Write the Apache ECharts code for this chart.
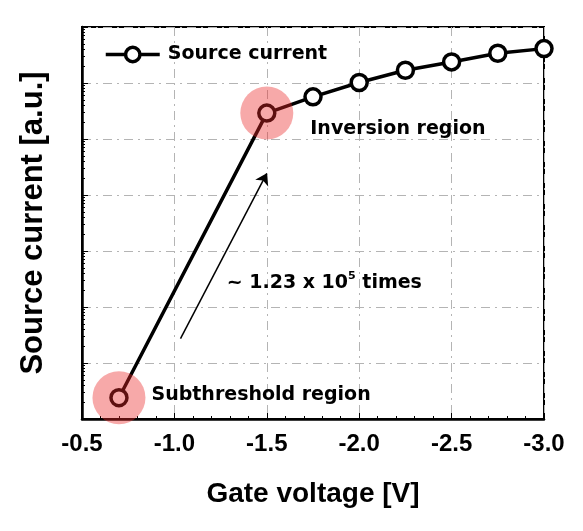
<!DOCTYPE html>
<html lang="en" style="height: 100%">
<head>
    <meta charset="utf-8">
    <title>Source current vs gate voltage</title>
</head>
<body style="height: 100%; margin: 0; background: #fff">
<div id="container" style="width: 583px; height: 531px"></div>

<script type="text/javascript" src="https://cdn.jsdelivr.net/npm/echarts@6/dist/echarts.min.js"></script>
<script type="text/javascript">
    // gate voltage [V] and source current [a.u.] (log scale)
    var gateVoltage = [-0.7, -1.5, -1.75, -2.0, -2.25, -2.5, -2.75, -3.0];
    var sourceCurrent = [2.4, 2.9e5, 5.66e5, 1.02e6, 1.69e6, 2.38e6, 3.40e6, 4.11e6];

    // points marked with the pink circles, and their texts
    var highlightIdx = [0, 1];
    var regionLabels = ['Subthreshold region', 'Inversion region'];

    // arrow and ratio text
    var arrowFrom = [-1.033, 27.3];
    var arrowTo = [-1.5, 2.44e4];
    var ratioAnchor = [-1.283, 263];

    var xTicks = [-0.5, -1.0, -1.5, -2.0, -2.5, -3.0];

    var dom = document.getElementById('container');
    var myChart = echarts.init(dom, null, {renderer: 'canvas'});

    var lineData = gateVoltage.map(function (v, i) {
        return [v, sourceCurrent[i]];
    });

    var hlData = highlightIdx.map(function (idx, k) {
        var item = {
            value: [gateVoltage[idx], sourceCurrent[idx]],
            name: regionLabels[k]
        };
        if (k === 0) {
            item.label = {distance: 6, offset: [0, -3]};
        } else {
            item.label = {distance: 17, offset: [0, 16]};
        }
        return item;
    });

    var annFont = 'DejaVu Sans';

    var option = {
        animation: false,
        grid: {
            left: 82,
            right: 39,
            top: 27,
            bottom: 112,
            show: true,
            borderColor: '#000',
            borderWidth: 2
        },
        legend: {
            data: ['Source current'],
            left: 104,
            top: 45,
            padding: 0,
            itemWidth: 54,
            itemHeight: 18,
            lineStyle: {width: 3.5},
            itemStyle: {borderWidth: 3.5},
            textStyle: {
                fontFamily: annFont,
                fontWeight: 'bold',
                fontSize: 19,
                color: '#000',
                padding: [0, 0, 0, 3]
            }
        },
        xAxis: {
            type: 'value',
            inverse: true,
            min: -3.0,
            max: -0.5,
            interval: 0.5,
            name: 'Gate voltage [V]',
            nameLocation: 'middle',
            nameGap: 61,
            nameTextStyle: {
                fontFamily: 'Liberation Sans',
                fontWeight: 'bold',
                fontSize: 28,
                color: '#000'
            },
            axisLine: {lineStyle: {color: '#000', width: 2.5}},
            axisTick: {inside: true, length: 6, lineStyle: {color: '#000', width: 1}},
            minorTick: {show: true, splitNumber: 5, length: 3, lineStyle: {color: '#000', width: 1}},
            axisLabel: {
                margin: 13,
                fontFamily: 'Liberation Sans',
                fontWeight: 'bold',
                fontSize: 24,
                color: '#000',
                formatter: function (v) {
                    return xTicks.indexOf(v) >= 0 ? v.toFixed(1) : '';
                }
            },
            splitLine: {
                show: true,
                lineStyle: {color: '#b4b4b4', width: 1, type: [9, 5, 2, 5]}
            }
        },
        yAxis: {
            type: 'log',
            logBase: 10,
            min: 1,
            max: 1e7,
            name: 'Source current [a.u.]',
            nameLocation: 'middle',
            nameGap: 33,
            nameTextStyle: {
                fontFamily: 'Liberation Sans',
                fontWeight: 'bold',
                fontSize: 31,
                color: '#000'
            },
            axisLine: {show: true, lineStyle: {color: '#000', width: 2.5}},
            axisTick: {inside: true, length: 6, lineStyle: {color: '#000', width: 1}},
            minorTick: {show: true, splitNumber: 9, length: 3, lineStyle: {color: '#000', width: 1}},
            axisLabel: {show: false},
            splitLine: {
                show: true,
                lineStyle: {color: '#b4b4b4', width: 1, type: [9, 5, 2, 5]}
            }
        },
        series: [
            {
                name: 'Source current',
                type: 'line',
                data: lineData,
                symbol: 'circle',
                symbolSize: 16,
                z: 2,
                lineStyle: {color: '#000', width: 3.5},
                itemStyle: {color: '#fff', borderColor: '#000', borderWidth: 3.5},
                emphasis: {disabled: true}
            },
            {
                name: 'regions',
                type: 'scatter',
                data: hlData,
                symbol: 'circle',
                symbolSize: 53,
                z: 5,
                silent: true,
                itemStyle: {color: 'rgba(235, 40, 40, 0.4)', opacity: 1},
                label: {
                    show: true,
                    position: 'right',
                    formatter: '{b}',
                    fontFamily: annFont,
                    fontWeight: 'bold',
                    fontSize: 19,
                    color: '#000',
                    opacity: 1
                },
                emphasis: {disabled: true}
            },
            {
                name: 'ratio',
                type: 'scatter',
                data: [{value: ratioAnchor}],
                symbolSize: 0,
                silent: true,
                z: 5,
                itemStyle: {color: '#000', opacity: 1},
                label: {
                    show: true,
                    position: 'right',
                    distance: 0,
                    opacity: 1,
                    formatter: '{m|~ 1.23 x 10}{s|5}{m| times}',
                    rich: {
                        m: {fontFamily: annFont, fontWeight: 'bold', fontSize: 19, color: '#000', lineHeight: 26},
                        s: {fontFamily: annFont, fontWeight: 'bold', fontSize: 11, color: '#000', lineHeight: 26, verticalAlign: 'top', padding: [0, 0, 8, 0]}
                    }
                },
                emphasis: {disabled: true},
                markLine: {
                    silent: true,
                    symbol: ['none', 'arrow'],
                    symbolSize: 11,
                    label: {show: false},
                    itemStyle: {color: '#000'},
                    lineStyle: {color: '#000', width: 1.5, type: 'solid', opacity: 1},
                    data: [[{coord: arrowFrom}, {coord: arrowTo}]]
                }
            }
        ]
    };

    myChart.setOption(option);
    window.addEventListener('resize', myChart.resize);
</script>
</body>
</html>
